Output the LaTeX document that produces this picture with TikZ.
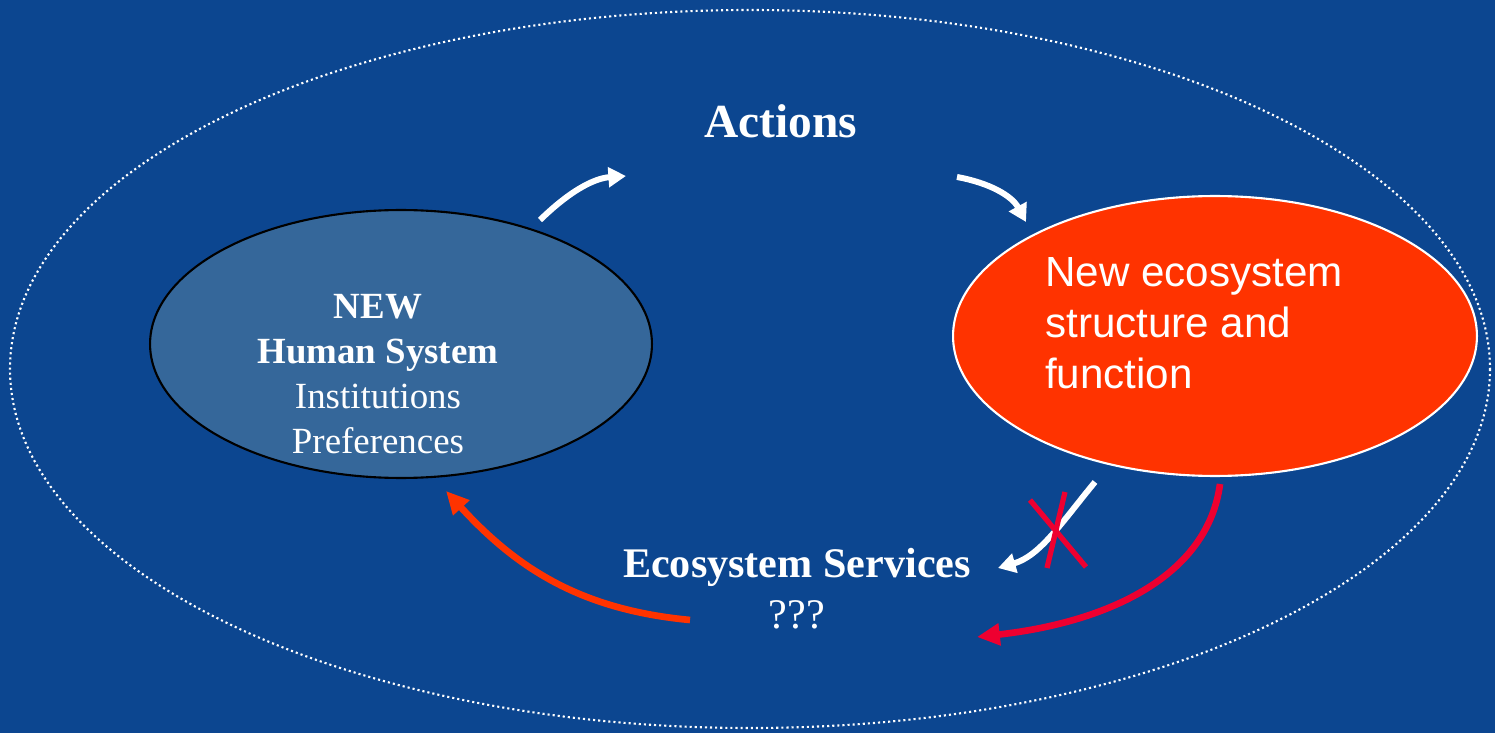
\documentclass[tikz,border=0pt]{standalone}
\usepackage{fontspec}
\setmainfont{Liberation Serif}
\setsansfont{Liberation Sans}
\usetikzlibrary{shapes.geometric,arrows.meta}

\definecolor{slideblue}{HTML}{0C4690}
\definecolor{humblue}{HTML}{35679A}
\definecolor{ecored}{HTML}{FF3300}
\definecolor{lossred}{HTML}{EE0030}

\begin{document}
\begin{tikzpicture}[x=0.02cm,y=-0.02cm,
  system/.style={ellipse,inner sep=0pt,line width=1.2pt},
  flow/.style={line width=3.4pt,white,-{Triangle[length=10pt,width=11pt]}},
  feedback/.style={line width=3.8pt,-{Triangle[length=13pt,width=12pt]}},
  title/.style={white,font=\fontsize{24}{29}\selectfont\bfseries}]
% slide background
\fill[slideblue] (0,0) rectangle (1495,733);
\useasboundingbox (0,0) rectangle (1495,733);
% whole system boundary
\draw[white,line width=1.2pt,dash pattern=on 1.2pt off 1.7pt] (750,369) ellipse [x radius=740,y radius=359];
% the two subsystems
\node[system,draw=black,fill=humblue,minimum width=10.04cm,minimum height=5.36cm] (hum) at (401,344) {};
\node[system,draw=white,fill=ecored,minimum width=10.48cm,minimum height=5.6cm] (eco) at (1215,336) {};
\node[white,align=center,font=\fontsize{21}{25.5}\selectfont] (humtext) at (378,374)
  {\textbf{NEW}\\\textbf{Human System}\\Institutions\\Preferences};
\node[white,align=left,anchor=west,font=\sffamily\fontsize{24}{29}\selectfont] (ecotext) at (1039,323)
  {New ecosystem\\structure and\\function};
% labels
\node[title,font=\fontsize{27}{32}\selectfont\bfseries] (act) at (781,121) {Actions};
\node[title] (serv) at (797,567) {Ecosystem Services};
\node[white,font=\fontsize{24}{29}\selectfont] (unk) at (797,615) {???};
% arrow ends
\coordinate (hum-out) at (540,220);
\coordinate (act-in) at (626,176);
\coordinate (act-out) at (957,177);
\coordinate (eco-in) at (1026,222);
\coordinate (eco-out) at (1095,482);
\coordinate (serv-in) at (998,568);
\coordinate (eco-loss) at (1220,484);
\coordinate (unk-in) at (977,637);
\coordinate (serv-out) at (690,620);
\coordinate (hum-in) at (446,491);
% cycle
\draw[flow] (hum-out) .. controls (575,186) and (598,178) .. (act-in);
\draw[flow] (act-out) .. controls (990,183) and (1012,196) .. (eco-in);
\draw[flow] (eco-out) .. controls (1062,522) and (1040,556) .. (serv-in);
\draw[lossred,line width=3pt] (1030,500) -- (1086,567);
\draw[lossred,line width=3pt] (1065,492) -- (1047,568);
\draw[feedback,lossred] (eco-loss) .. controls (1208,575) and (1110,622) .. (unk-in);
\draw[feedback,ecored] (serv-out) .. controls (585,610) and (520,572) .. (hum-in);
\end{tikzpicture}
\end{document}
